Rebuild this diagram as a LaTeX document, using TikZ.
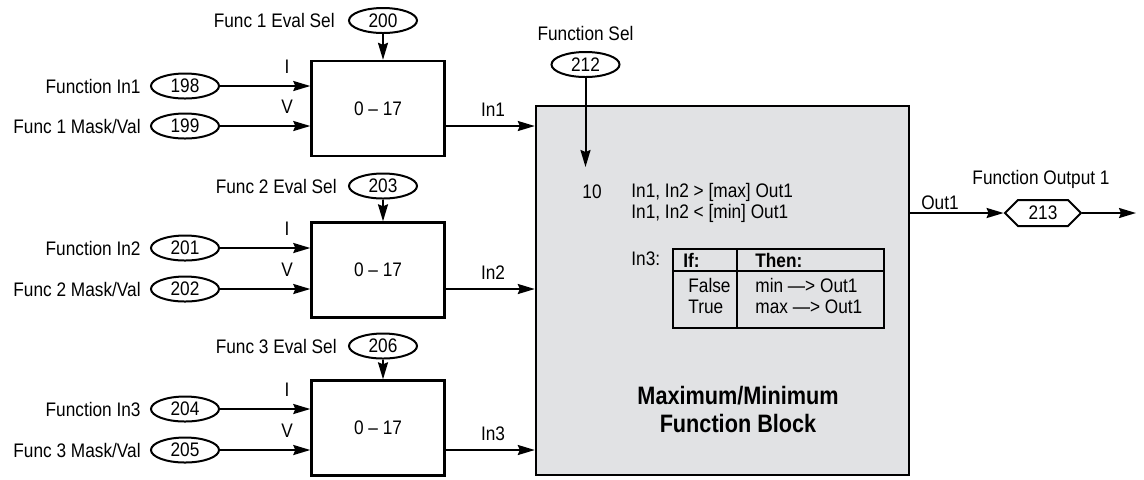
\documentclass[tikz,border=0pt]{standalone}
\usepackage{fontspec}
\setmainfont{Liberation Sans}[FakeStretch=0.88]
\newfontfamily\titlefont{Liberation Sans}[FakeStretch=0.86]
\usetikzlibrary{arrows.meta, shapes.geometric, shapes.symbols}

\definecolor{blockgray}{RGB}{225,226,228}

\begin{document}
\begin{tikzpicture}[
  x=0.5pt, y=-0.5pt,
  txt/.style={font=\fontsize{9.8}{11}\selectfont, inner sep=0pt},
  param/.style={txt, draw, ellipse, line width=1pt, minimum width=34pt, minimum height=12.5pt},
  selbox/.style={txt, draw, line width=1.2pt, minimum width=66.5pt, minimum height=47.5pt},
  arr/.style={-{Stealth[length=8.5pt, width=5pt, inset=1pt]}, line width=1pt},
  title/.style={font=\titlefont\bfseries\fontsize{12.6}{14}\selectfont, align=center, inner sep=0pt},
]
  \useasboundingbox (0,0) rectangle (1144,479);

  % Main block
  \node[draw, line width=1.2pt, fill=blockgray, minimum width=186.5pt, minimum height=184.5pt] (main) at (722.5,290.5) {};

  % Channel 1
  \node[selbox] (box1) at (378,108.5) {0 -- 17};
  \node[param] (p200) at (383,20.5) {200};
  \node[txt, anchor=east] at (335,20.5) {Func 1 Eval Sel};
  \node[param] (p198) at (185,86) {198};
  \node[txt, anchor=east] at (141,86) {Function In1};
  \node[param] (p199) at (185,126) {199};
  \node[txt, anchor=east] at (141,126) {Func 1 Mask/Val};
  \node[txt] at (287,67) {I};
  \node[txt] at (287,107) {V};
  \node[txt] at (493,110) {In1};

  % Channel 2
  \node[selbox] (box2) at (378,270) {0 -- 17};
  \node[param] (p203) at (383,186) {203};
  \node[txt, anchor=east] at (337,186) {Func 2 Eval Sel};
  \node[param] (p201) at (185,248) {201};
  \node[txt, anchor=east] at (141,248) {Function In2};
  \node[param] (p202) at (185,289) {202};
  \node[txt, anchor=east] at (141,289) {Func 2 Mask/Val};
  \node[txt] at (287,229) {I};
  \node[txt] at (287,270) {V};
  \node[txt] at (493,273) {In2};

  % Channel 3
  \node[selbox] (box3) at (378,428) {0 -- 17};
  \node[param] (p206) at (383,346) {206};
  \node[txt, anchor=east] at (337,346) {Func 3 Eval Sel};
  \node[param] (p204) at (185,409) {204};
  \node[txt, anchor=east] at (141,409) {Function In3};
  \node[param] (p205) at (185,450) {205};
  \node[txt, anchor=east] at (141,450) {Func 3 Mask/Val};
  \node[txt] at (287,390) {I};
  \node[txt] at (287,431) {V};
  \node[txt] at (493,434) {In3};

  % Function select
  \node[txt] at (585.5,33) {Function Sel};
  \node[param] (p212) at (585.5,64.5) {212};
  \coordinate (seltip) at (585.5,167);

  % Text inside main block
  \node[txt] at (592,192) {10};
  \node[txt, anchor=west] at (631,192) {In1, In2 > [max] Out1};
  \node[txt, anchor=west] at (631,213) {In1, In2 < [min] Out1};
  \node[txt, anchor=west] at (631,259) {In3:};
  \draw[line width=0.7pt] (673,249) rectangle (884,328);
  \draw[line width=0.7pt] (673,271) -- (884,271);
  \draw[line width=0.7pt] (737,249) -- (737,328);
  \node[txt, anchor=west, font=\fontsize{9.8}{11}\selectfont\bfseries] at (683,260) {If:};
  \node[txt, anchor=west, font=\fontsize{9.8}{11}\selectfont\bfseries] at (755,260) {Then:};
  \node[txt, anchor=west] at (688,285) {False};
  \node[txt, anchor=west] at (688,307) {True};
  \node[txt, anchor=west] at (755,285) {min —> Out1};
  \node[txt, anchor=west] at (755,307) {max —> Out1};
  \node[title] at (738,409) {Maximum/Minimum\\Function Block};

  % Output
  \node[txt, draw, line width=1pt, signal, signal to=east and west, signal pointer angle=90,
        minimum width=38pt, minimum height=13pt] (p213) at (1043,213) {213};
  \node[txt] at (1041,179) {Function Output 1};
  \node[txt] at (940,203) {Out1};
  \coordinate (outend) at (1136,213);

  % Arrows
  \draw[arr] (p200) -- (p200 |- box1.north);
  \draw[arr] (p198) -- (p198 -| box1.west);
  \draw[arr] (p199) -- (p199 -| box1.west);
  \draw[arr] (box1.east |- p199) -- (p199 -| main.west);
  \draw[arr] (p203) -- (p203 |- box2.north);
  \draw[arr] (p201) -- (p201 -| box2.west);
  \draw[arr] (p202) -- (p202 -| box2.west);
  \draw[arr] (box2.east |- p202) -- (p202 -| main.west);
  \draw[arr] (p206) -- (p206 |- box3.north);
  \draw[arr] (p204) -- (p204 -| box3.west);
  \draw[arr] (p205) -- (p205 -| box3.west);
  \draw[arr] (box3.east |- p205) -- (p205 -| main.west);
  \draw[arr] (p212) -- (seltip);
  \draw[arr] (main.east |- p213) -- (p213.west);
  \draw[arr] (p213.east) -- (outend);
\end{tikzpicture}
\end{document}
